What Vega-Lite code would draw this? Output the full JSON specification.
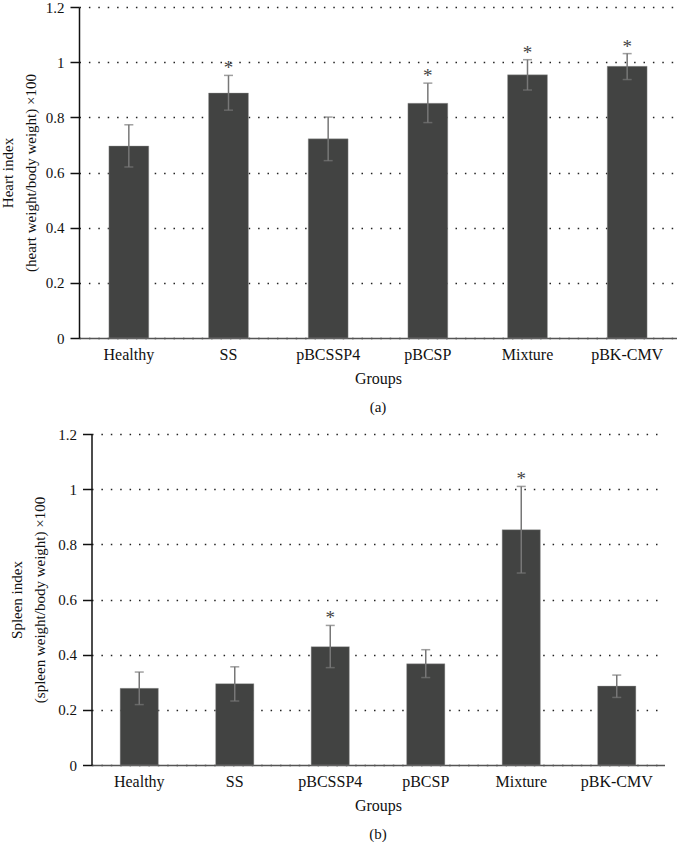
{
  "$schema": "https://vega.github.io/schema/vega-lite/v6.json",
  "padding": {"left": 0, "top": 0, "right": 0, "bottom": 0},
  "background": "white",
  "spacing": 12,
  "center": true,
  "config": {
    "font": "Liberation Serif",
    "view": {"stroke": null},
    "axis": {"labelFont": "Liberation Serif", "titleFont": "Liberation Serif", "labelColor": "#111", "titleColor": "#111", "titleFontWeight": "normal"},
    "title": {"font": "Liberation Serif", "fontWeight": "normal", "color": "#111"}
  },
  "datasets": {
    "heart": [
      {"group": "Healthy", "mean": 0.696, "lo": 0.620, "hi": 0.773, "sig": ""},
      {"group": "SS", "mean": 0.888, "lo": 0.826, "hi": 0.952, "sig": "*"},
      {"group": "pBCSSP4", "mean": 0.722, "lo": 0.643, "hi": 0.801, "sig": ""},
      {"group": "pBCSP", "mean": 0.851, "lo": 0.781, "hi": 0.924, "sig": "*"},
      {"group": "Mixture", "mean": 0.954, "lo": 0.899, "hi": 1.009, "sig": "*"},
      {"group": "pBK-CMV", "mean": 0.985, "lo": 0.937, "hi": 1.031, "sig": "*"}
    ],
    "spleen": [
      {"group": "Healthy", "mean": 0.278, "lo": 0.219, "hi": 0.337, "sig": ""},
      {"group": "SS", "mean": 0.295, "lo": 0.232, "hi": 0.356, "sig": ""},
      {"group": "pBCSSP4", "mean": 0.429, "lo": 0.353, "hi": 0.506, "sig": "*"},
      {"group": "pBCSP", "mean": 0.367, "lo": 0.317, "hi": 0.418, "sig": ""},
      {"group": "Mixture", "mean": 0.853, "lo": 0.696, "hi": 1.010, "sig": "*"},
      {"group": "pBK-CMV", "mean": 0.286, "lo": 0.245, "hi": 0.326, "sig": ""}
    ]
  },
  "vconcat": [
    {
      "width": 598,
      "height": 331,
      "data": {"name": "heart"},
      "title": {"text": "(a)", "orient": "bottom", "fontSize": 15, "offset": 14},
      "encoding": {
        "x": {
          "field": "group", "type": "nominal", "sort": null,
          "scale": {"paddingInner": 0.6, "paddingOuter": 0.3},
          "axis": {"title": "Groups", "labelAngle": 0, "labelFontSize": 16, "titleFontSize": 16, "ticks": false, "labelPadding": 8, "titlePadding": 8, "domainColor": "#555", "domainWidth": 1.5}
        }
      },
      "layer": [
        {
          "mark": {"type": "bar", "color": "#424342", "stroke": "#9a9a9a", "strokeWidth": 0.4},
          "encoding": {
            "y": {
              "field": "mean", "type": "quantitative",
              "scale": {"domain": [0, 1.2], "nice": false},
              "axis": {
                "title": ["Heart index", "(heart weight/body weight) ×100"],
                "titleFontSize": 15, "titleLineHeight": 23, "titlePadding": 7,
                "values": [0, 0.2, 0.4, 0.6, 0.8, 1, 1.2], "format": "~g",
                "labelFontSize": 15, "labelPadding": 6, "tickSize": 9, "tickColor": "#111", "domainColor": "#111", "domainWidth": 1.5, "tickWidth": 1.5,
                "grid": true, "gridColor": "#222", "gridDash": [1.5, 7.9], "gridWidth": 1.3
              }
            }
          }
        },
        {
          "mark": {"type": "rule", "color": "#777", "strokeWidth": 1.5},
          "encoding": {"y": {"field": "lo", "type": "quantitative"}, "y2": {"field": "hi"}}
        },
        {
          "mark": {"type": "tick", "color": "#777", "thickness": 1.5, "size": 9},
          "encoding": {"y": {"field": "lo", "type": "quantitative"}}
        },
        {
          "mark": {"type": "tick", "color": "#777", "thickness": 1.5, "size": 9},
          "encoding": {"y": {"field": "hi", "type": "quantitative"}}
        },
        {
          "mark": {"type": "text", "color": "#444", "fontSize": 19, "baseline": "alphabetic", "dy": -1},
          "encoding": {"y": {"field": "hi", "type": "quantitative"}, "text": {"field": "sig"}}
        }
      ]
    },
    {
      "width": 573,
      "height": 331,
      "data": {"name": "spleen"},
      "title": {"text": "(b)", "orient": "bottom", "fontSize": 15, "offset": 14},
      "encoding": {
        "x": {
          "field": "group", "type": "nominal", "sort": null,
          "scale": {"paddingInner": 0.6, "paddingOuter": 0.3},
          "axis": {"title": "Groups", "labelAngle": 0, "labelFontSize": 16, "titleFontSize": 16, "ticks": false, "labelPadding": 8, "titlePadding": 8, "domainColor": "#555", "domainWidth": 1.5}
        }
      },
      "layer": [
        {
          "mark": {"type": "bar", "color": "#424342", "stroke": "#9a9a9a", "strokeWidth": 0.4},
          "encoding": {
            "y": {
              "field": "mean", "type": "quantitative",
              "scale": {"domain": [0, 1.2], "nice": false},
              "axis": {
                "title": ["Spleen index", "(spleen weight/body weight) ×100"],
                "titleFontSize": 15, "titleLineHeight": 23, "titlePadding": 10,
                "values": [0, 0.2, 0.4, 0.6, 0.8, 1, 1.2], "format": "~g",
                "labelFontSize": 15, "labelPadding": 6, "tickSize": 9, "tickColor": "#111", "domainColor": "#111", "domainWidth": 1.5, "tickWidth": 1.5,
                "grid": true, "gridColor": "#222", "gridDash": [1.5, 7.9], "gridWidth": 1.3
              }
            }
          }
        },
        {
          "mark": {"type": "rule", "color": "#777", "strokeWidth": 1.5},
          "encoding": {"y": {"field": "lo", "type": "quantitative"}, "y2": {"field": "hi"}}
        },
        {
          "mark": {"type": "tick", "color": "#777", "thickness": 1.5, "size": 9},
          "encoding": {"y": {"field": "lo", "type": "quantitative"}}
        },
        {
          "mark": {"type": "tick", "color": "#777", "thickness": 1.5, "size": 9},
          "encoding": {"y": {"field": "hi", "type": "quantitative"}}
        },
        {
          "mark": {"type": "text", "color": "#444", "fontSize": 19, "baseline": "alphabetic", "dy": -1},
          "encoding": {"y": {"field": "hi", "type": "quantitative"}, "text": {"field": "sig"}}
        }
      ]
    }
  ]
}
